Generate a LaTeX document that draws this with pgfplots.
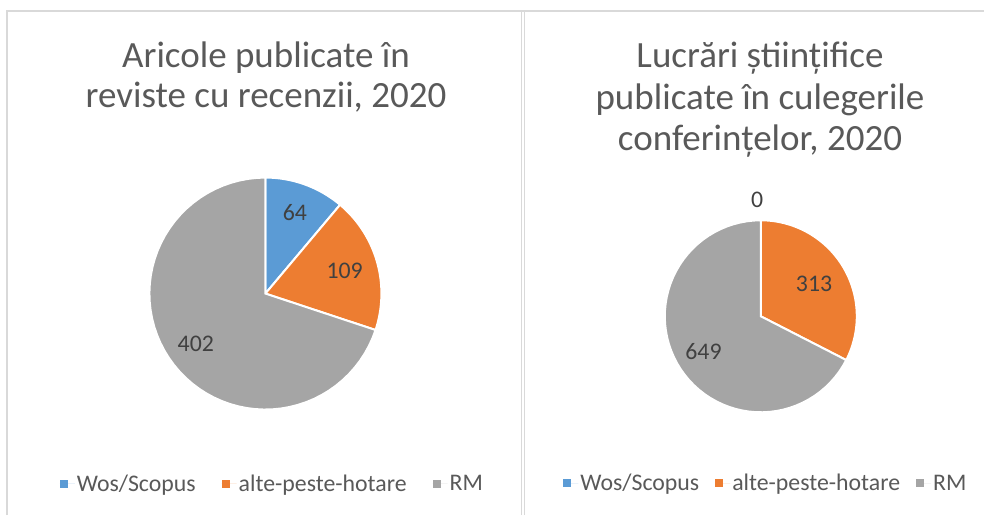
\documentclass[border=0pt]{standalone}
\usepackage{pgfplots}
\pgfplotsset{compat=1.18}
\usepackage{pgfplotstable}
\usepackage{fontspec}
\setmainfont{Carlito}
\definecolor{cblue}{HTML}{5B9BD5}
\definecolor{corange}{HTML}{ED7D31}
\definecolor{cgray}{HTML}{A5A5A5}
\definecolor{ctext}{HTML}{595959}
\definecolor{clabel}{HTML}{404040}
\definecolor{cframe}{HTML}{D9D9D9}

\pgfplotstableread{
cat value
Wos 64
Alte 109
RM 402
}\tblA
\pgfplotstableread{
cat value
Wos 0
Alte 313
RM 649
}\tblB

\newcommand\getvals[1]{%
 \pgfplotstablegetelem{0}{value}\of#1\pgfmathsetmacro\vA{\pgfplotsretval}%
 \pgfplotstablegetelem{1}{value}\of#1\pgfmathsetmacro\vB{\pgfplotsretval}%
 \pgfplotstablegetelem{2}{value}\of#1\pgfmathsetmacro\vC{\pgfplotsretval}%
 \pgfmathsetmacro\tot{\vA+\vB+\vC}%
 \pgfmathsetmacro\fA{\vA/\tot}%
 \pgfmathsetmacro\fB{\vB/\tot}%
 \pgfmathsetmacro\aA{90-360*\fA}%
 \pgfmathsetmacro\aB{\aA-360*\fB}%
 \pgfmathsetmacro\mA{90-180*\fA}%
 \pgfmathsetmacro\mB{(\aA+\aB)/2}%
 \pgfmathsetmacro\mC{(\aB-270)/2}%
 \pgfmathtruncatemacro\iA{\vA}%
 \pgfmathtruncatemacro\iB{\vB}%
 \pgfmathtruncatemacro\iC{\vC}%
}

\newcommand\titlefont{\fontsize{37}{41.5}\selectfont\color{ctext}}
\newcommand\lblfont{\fontsize{23.8}{28}\selectfont\color{clabel}}

\pgfplotsset{
  pieaxis/.style={
    scale only axis, xmin=-1, xmax=1, ymin=-1, ymax=1,
    hide axis, clip=false, anchor=origin,
    legend columns=3,
    legend style={draw=none, fill=none, anchor=center,
      font=\fontsize{23.8}{28}\selectfont\color{ctext}},
    legend image code/.code={\fill[##1] (0pt,-4pt) rectangle (8pt,4pt); \path (0pt,0pt) -- (15pt,0pt);},
  },
  slice/.style={draw=white, line width=2pt, samples=60, variable=\t, forget plot},
}

\begin{document}
\begin{tikzpicture}[x=1pt,y=1pt]
% frames
\draw[cframe, line width=1.2pt] (7,0) -- (7,504) -- (984,504);
\draw[cframe, line width=1.2pt] (521.8,0) -- (521.8,504);
\draw[cframe, line width=1.2pt] (524.8,0) -- (524.8,504);

% titles
\node[anchor=base, font=\titlefont] at (266,447) {Aricole publicate în};
\node[anchor=base, font=\titlefont] at (266,407) {reviste cu recenzii, 2020};
\node[anchor=base, font=\titlefont] at (760,447) {Lucrări științifice};
\node[anchor=base, font=\titlefont] at (760,405.5) {publicate în culegerile};
\node[anchor=base, font=\titlefont] at (760,364) {conferințelor, 2020};

% left pie
\getvals{\tblA}
\begin{axis}[pieaxis, at={(228.8,190.9)}, width=232pt, height=232pt,
  legend style={at={(axis cs:0.06,-1.64)}, /tikz/every even column/.append style={column sep=24pt}}]
\addplot[slice, fill=cblue, domain=\aA:90] ({cos(\t)},{sin(\t)}) -- (axis cs:0,0) -- cycle;
\addplot[slice, fill=corange, domain=\aB:\aA] ({cos(\t)},{sin(\t)}) -- (axis cs:0,0) -- cycle;
\addplot[slice, fill=cgray, domain=-270:\aB] ({cos(\t)},{sin(\t)}) -- (axis cs:0,0) -- cycle;
\node[font=\lblfont] at (axis cs:{0.74*cos(\mA)},{0.74*sin(\mA)}) {\iA};
\node[font=\lblfont] at (axis cs:{0.71*cos(\mB)},{0.71*sin(\mB)}) {\iB};
\node[font=\lblfont] at (axis cs:{0.74*cos(\mC)},{0.74*sin(\mC)}) {\iC};
\addlegendimage{fill=cblue, draw=none}\addlegendentry{Wos/Scopus}
\addlegendimage{fill=corange, draw=none}\addlegendentry{alte-peste-hotare}
\addlegendimage{fill=cgray, draw=none}\addlegendentry{RM}
\end{axis}

% right pie
\getvals{\tblB}
\begin{axis}[pieaxis, at={(792.5,207)}, width=192pt, height=192pt,
  legend style={at={(axis cs:0.053,-1.74)}, /tikz/every even column/.append style={column sep=14pt}}]
\addplot[slice, fill=corange, domain=\aB:\aA] ({cos(\t)},{sin(\t)}) -- (axis cs:0,0) -- cycle;
\addplot[slice, fill=cgray, domain=-270:\aB] ({cos(\t)},{sin(\t)}) -- (axis cs:0,0) -- cycle;
\node[font=\lblfont] at (axis cs:-0.037,1.216) {\iA};
\node[font=\lblfont] at (axis cs:{0.65*cos(\mB)},{0.65*sin(\mB)}) {\iB};
\node[font=\lblfont] at (axis cs:{0.70*cos(\mC)},{0.70*sin(\mC)}) {\iC};
\addlegendimage{fill=cblue, draw=none}\addlegendentry{Wos/Scopus}
\addlegendimage{fill=corange, draw=none}\addlegendentry{alte-peste-hotare}
\addlegendimage{fill=cgray, draw=none}\addlegendentry{RM}
\end{axis}
\pgfresetboundingbox
\path[use as bounding box] (0,0) rectangle (984,515);
\end{tikzpicture}
\end{document}
